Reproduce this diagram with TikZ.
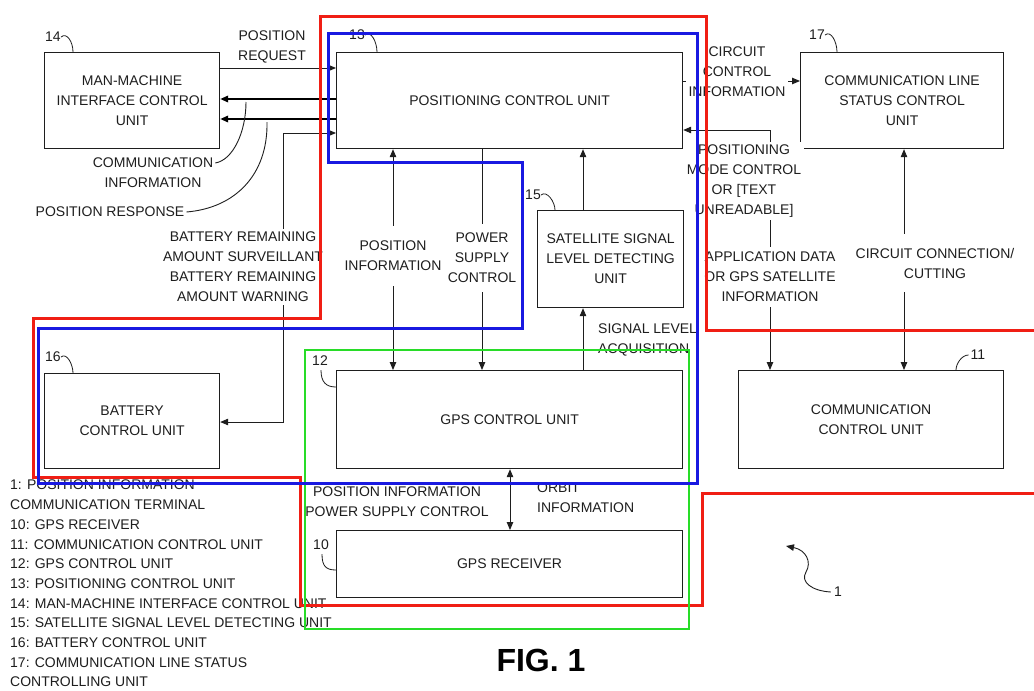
\documentclass[tikz,border=0pt]{standalone}
\usepackage{fontspec}
\setmainfont{Liberation Sans}
\usetikzlibrary{arrows.meta}
\definecolor{redb}{RGB}{240,30,20}
\definecolor{blueb}{RGB}{25,25,225}
\definecolor{greenb}{RGB}{40,220,40}
\definecolor{ink}{RGB}{30,30,30}
\begin{document}
\begin{tikzpicture}[x=1pt,y=-1pt,
 every node/.style={font=\fontsize{14}{20}\selectfont, text=ink},
 box/.style={draw=ink,line width=1.2pt,anchor=north west,align=center,inner sep=0pt},
 lab/.style={align=center,inner sep=0pt},
 cover/.style={lab,fill=white,inner sep=3pt},
 conn/.style={draw=ink,line width=0.9pt},
 tip/.style={-{Triangle[length=8pt,width=6.5pt]}},
 tips/.style={{Triangle[length=8pt,width=6.5pt]}-{Triangle[length=8pt,width=6.5pt]}},
 heavy/.style={draw=black,line width=1.8pt},
 hookline/.style={draw=ink,line width=0.8pt},
 zone/.style={line width=3pt,line join=miter},
]
\useasboundingbox (0,0) rectangle (1034,691);
\fill[white] (0,0) rectangle (1034,691);

% ---------- boxes
\node[box,minimum width=175pt,minimum height=96pt] (mmi) at (44,52) {MAN-MACHINE\\INTERFACE CONTROL\\UNIT};
\node[box,minimum width=346pt,minimum height=96pt] (pcu) at (336,52) {POSITIONING CONTROL UNIT};
\node[box,minimum width=203pt,minimum height=96pt] (cls) at (800,52) {COMMUNICATION LINE\\STATUS CONTROL\\UNIT};
\node[box,minimum width=146pt,minimum height=97pt] (sat) at (537,210) {SATELLITE SIGNAL\\LEVEL DETECTING\\UNIT};
\node[box,minimum width=175pt,minimum height=95pt] (bat) at (44,373) {BATTERY\\CONTROL UNIT};
\node[box,minimum width=346pt,minimum height=98pt] (gcu) at (336,370) {GPS CONTROL UNIT};
\node[box,minimum width=265pt,minimum height=98pt] (ccu) at (738,370) {COMMUNICATION\\CONTROL UNIT};
\node[box,minimum width=346pt,minimum height=67pt] (gr) at (336,530) {GPS RECEIVER};

% ---------- helper coordinates
\coordinate (y68) at (0,68);
\coordinate (y99) at (0,99);
\coordinate (y119) at (0,119);
\coordinate (y81) at (0,81);
\coordinate (y422) at (0,422);
\coordinate (bc) at (283,133);
\coordinate (mc) at (770,130);
\coordinate (x393) at (393,0);
\coordinate (x482) at (482,0);
\coordinate (x583) at (583,0);
\coordinate (x904) at (904,0);
\coordinate (x510) at (510,0);

% ---------- connectors
\draw[conn,tip] (mmi.east |- y68) -- (pcu.west |- y68);
\draw[heavy,tip] (pcu.west |- y99) -- (mmi.east |- y99);
\draw[heavy,tip] (pcu.west |- y119) -- (mmi.east |- y119);
\draw[conn,tips] (pcu.west |- bc) -- (bc) -- (bc |- y422) -- (bat.east |- y422);
\draw[conn,tips] (pcu.south -| x393) -- (gcu.north -| x393);
\draw[conn,tip] (pcu.south -| x482) -- (gcu.north -| x482);
\draw[conn,tip] (sat.north -| x583) -- (pcu.south -| x583);
\draw[conn,tip] (gcu.north -| x583) -- (sat.south -| x583);
\draw[conn,tip] (pcu.east |- y81) -- (cls.west |- y81);
\draw[conn,tips] (ccu.north -| mc) -- (mc) -- (pcu.east |- mc);
\draw[conn,tips] (cls.south -| x904) -- (ccu.north -| x904);
\draw[conn,tips] (gcu.south -| x510) -- (gr.north -| x510);

% ---------- labels
\node[lab] (preq) at (272,47) {POSITION\\REQUEST};
\node[lab] (cinfo) at (153,173) {COMMUNICATION\\INFORMATION};
\node[lab] (presp) at (110,212) {POSITION RESPONSE};
\coordinate (ciB) at (246,102);
\coordinate (prB) at (267,122);
\draw[conn] ([xshift=2pt,yshift=10pt]cinfo.east) .. controls (233,160) and (246,132) .. (ciB);
\draw[conn] ([xshift=2pt]presp.east) .. controls (235,208) and (268,175) .. (prB);
\node[cover] (batl) at (243,267) {BATTERY REMAINING\\AMOUNT SURVEILLANT\\BATTERY REMAINING\\AMOUNT WARNING};
\node[cover,inner ysep=15pt] (pil) at (393,256) {POSITION\\INFORMATION};
\node[cover,inner ysep=9pt] (psl) at (482,258) {POWER\\SUPPLY\\CONTROL};
\node[lab,anchor=west,align=left] (sll) at (598,340) {SIGNAL LEVEL\\ACQUISITION};
\node[cover] (ccil) at (737,72) {CIRCUIT\\CONTROL\\INFORMATION};
\node[cover] (pmcl) at (744,181) {POSITIONING\\MODE CONTROL\\OR [TEXT\\UNREADABLE]};
\node[cover,inner ysep=5pt] (adl) at (770,277) {APPLICATION DATA\\OR GPS SATELLITE\\INFORMATION};
\node[cover,inner ysep=14pt] (ccl) at (935,263) {CIRCUIT CONNECTION/\\CUTTING};
\node[lab] (pibl) at (397,502) {POSITION INFORMATION\\POWER SUPPLY CONTROL};
\node[lab,anchor=west,align=left] (orbl) at (537,498) {ORBIT\\INFORMATION};

% ---------- reference numerals
\node[lab] (n14) at (53,37) {14};
\draw[hookline] (n14.east) .. controls +(6,-5) and +(0,-10) .. ([xshift=29pt]mmi.north west);
\node[lab] (n13) at (357,35) {13};
\draw[hookline] (n13.east) .. controls +(6,-5) and +(0,-10) .. ([xshift=41pt]pcu.north west);
\node[lab] (n17) at (817,35) {17};
\draw[hookline] (n17.east) .. controls +(6,-5) and +(0,-10) .. ([xshift=37pt]cls.north west);
\node[lab] (n15) at (533,195) {15};
\draw[hookline] (n15.east) .. controls +(6,-5) and +(0,-8) .. ([xshift=18pt]sat.north west);
\node[lab] (n16) at (53,357) {16};
\draw[hookline] (n16.east) .. controls +(6,-5) and +(0,-8) .. ([xshift=29pt]bat.north west);
\node[lab] (n12) at (320,361) {12};
\draw[hookline] ([xshift=1pt,yshift=-4pt]n12.south) .. controls +(0,12) and +(-10,0) .. ([yshift=-17pt]gcu.north west);
\node[lab] (n10) at (321,545) {10};
\draw[hookline] ([xshift=1pt,yshift=-4pt]n10.south) .. controls +(0,12) and +(-10,0) .. ([yshift=-40pt]gr.north west);
\node[lab] (n11) at (978,355) {11};
\draw[hookline] ([xshift=-2pt]n11.west) .. controls +(-7,0) and +(0,-6) .. ([xshift=218pt]ccu.north west);
\node[lab] (n1) at (838,592) {1};
\coordinate (n1tip) at (786,546);
\draw[conn,tip] ([xshift=-3pt]n1.west) .. controls (812,591) and (800,582) .. (806,572) .. controls (812,562) and (806,550) .. (n1tip);

% ---------- legend
\node[lab,anchor=north west,align=left,font=\fontsize{14}{19.7}\selectfont] (legend) at (10,480) {1: POSITION INFORMATION\\COMMUNICATION TERMINAL\\10: GPS RECEIVER\\11: COMMUNICATION CONTROL UNIT\\12: GPS CONTROL UNIT\\13: POSITIONING CONTROL UNIT\\14: MAN-MACHINE INTERFACE CONTROL UNIT\\15: SATELLITE SIGNAL LEVEL DETECTING UNIT\\16: BATTERY CONTROL UNIT\\17: COMMUNICATION LINE STATUS\\CONTROLLING UNIT};

\node[lab,font=\bfseries\fontsize{32}{36}\selectfont,text=black] (fig) at (541,660) {FIG. 1};

% ---------- coloured zones
\draw[zone,redb] (1034,330) -- (706,330) -- (706,16) -- (320,16) -- (320,318) -- (33,318) -- (33,477) -- (300,477) -- (300,605) -- (702,605) -- (702,493) -- (1034,493);
\draw[zone,greenb,line width=2.5pt] (305,350) rectangle (689,629);
\draw[zone,blueb] (328,33) -- (697,33) -- (697,483) -- (38,483) -- (38,328) -- (522,328) -- (522,162) -- (328,162) -- cycle;
\end{tikzpicture}
\end{document}
